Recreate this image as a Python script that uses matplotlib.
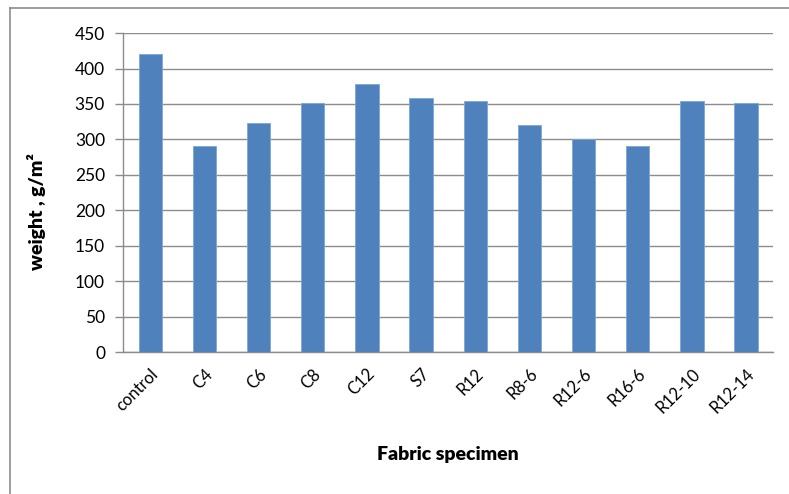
import numpy as np
import matplotlib.pyplot as plt
from matplotlib.lines import Line2D

plt.rcParams['font.family'] = ['Lato', 'DejaVu Sans']

specimens = ['control', 'C4', 'C6', 'C8', 'C12', 'S7', 'R12', 'R8-6',
             'R12-6', 'R16-6', 'R12-10', 'R12-14']
weight = [420, 290, 323, 351, 378, 359, 354, 321, 300, 290, 354, 351]
y_ticks = [0, 50, 100, 150, 200, 250, 300, 350, 400, 450]

fig = plt.figure(figsize=(7.89, 4.94), dpi=100)
ax = fig.add_axes([0.156, 0.2874, 0.824, 0.6456])

x = np.arange(len(specimens))
ax.bar(x, weight, width=0.43, color='#4f81bd', edgecolor='#7ea6d6',
       linewidth=0.6, zorder=3)

ax.set_xlim(-0.5, len(specimens) - 0.5)
ax.set_ylim(0, 450)
ax.set_yticks(y_ticks)
ax.yaxis.grid(True, color='#8c8c8c', linewidth=1.0, zorder=0)
ax.tick_params(axis='y', length=6, width=1, color='#8c8c8c', labelsize=12.5,
               pad=7)
ax.tick_params(axis='x', length=0, labelsize=12, pad=10)

ax.set_xticks(x)
ax.set_xticklabels(specimens, rotation=45, ha='right', va='top',
                   rotation_mode='anchor')

for side in ['top', 'right']:
    ax.spines[side].set_visible(False)
for side in ['left', 'bottom']:
    ax.spines[side].set_color('#8c8c8c')
    ax.spines[side].set_linewidth(1.0)

ax.set_ylabel('weight , g/m²', fontsize=14, fontweight='heavy')
ax.yaxis.set_label_coords(-0.118, 0.44)
fig.text(0.568, 0.079, 'Fabric specimen', fontsize=14, fontweight='heavy',
         ha='center', va='center')

# outer chart frame (left and top edges)
fig.add_artist(Line2D([0.0127, 0.0127], [0.0, 0.984], transform=fig.transFigure,
                      color='#8c8c8c', linewidth=1.2))
fig.add_artist(Line2D([0.0127, 1.0], [0.984, 0.984], transform=fig.transFigure,
                      color='#8c8c8c', linewidth=1.2))

fig.savefig('out.png', dpi=100)
